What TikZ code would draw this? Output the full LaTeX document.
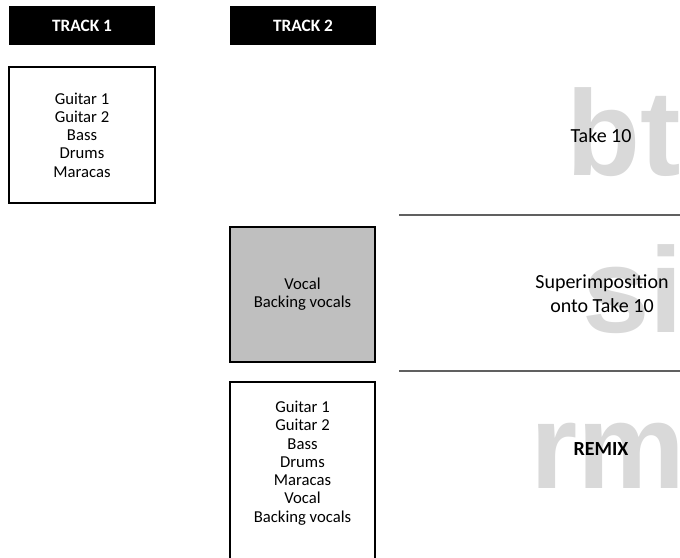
\documentclass[tikz,border=0pt]{standalone}
\usepackage{fontspec}
\setmainfont{Carlito}
\newfontfamily\ghostfont{Liberation Sans}
\usepackage{tikz}
\definecolor{ghostcol}{RGB}{217,217,217}
\definecolor{overdub}{RGB}{191,191,191}
\definecolor{rulecol}{RGB}{96,96,96}

\begin{document}
\begin{tikzpicture}[x=0.75pt,y=-0.75pt,
  hdr/.style={fill=black,text=white,font=\fontsize{13}{15}\selectfont\bfseries,minimum width=109.5pt,minimum height=29.25pt,inner sep=0pt},
  box/.style={draw=black,line width=1.2pt,align=center,font=\fontsize{12.5}{13.7}\selectfont,inner sep=0pt,minimum width=108.75pt},
  lbl/.style={align=center,font=\fontsize{15}{18}\selectfont,inner sep=0pt},
  ghost/.style={anchor=base west,inner sep=0pt,text=ghostcol,font=\ghostfont\fontsize{91}{91}\selectfont\bfseries}]
\useasboundingbox (0,0) rectangle (680,557);
\clip (0,0) rectangle (680,557);
\node[ghost] (gbt) at (566,175) {bt};
\node[ghost] (gsi) at (582,332) {si};
\node[ghost] (grm) at (530,488) {rm};
\node[hdr] (track1) at (82,25.5) {TRACK 1};
\node[hdr] (track2) at (303,25.5) {TRACK 2};
\node[box,minimum width=109.5pt,minimum height=102pt] (basic) at (82,135) {Guitar 1\\Guitar 2\\Bass\\Drums\\Maracas};
\node[box,fill=overdub,minimum height=101.25pt] (vox) at (302.5,294.5) {Vocal\\Backing vocals};
\node[box,minimum height=135pt] (mix) at (302.5,472) {};
\node[align=center,inner sep=0pt,font=\fontsize{12.5}{13.7}\selectfont] (mixlist) at (302.5,463) {Guitar 1\\Guitar 2\\Bass\\Drums\\Maracas\\Vocal\\Backing vocals};
\node[lbl] (take) at (601,136) {Take 10};
\node[lbl] (superimp) at (602,294) {Superimposition\\onto Take 10};
\node[lbl,font=\fontsize{15}{18}\selectfont\bfseries] (remix) at (601,449) {REMIX};
\draw[rulecol,line width=1.2pt] (399,215) -- (680,215);
\draw[rulecol,line width=1.2pt] (399,371) -- (680,371);
\end{tikzpicture}
\end{document}
